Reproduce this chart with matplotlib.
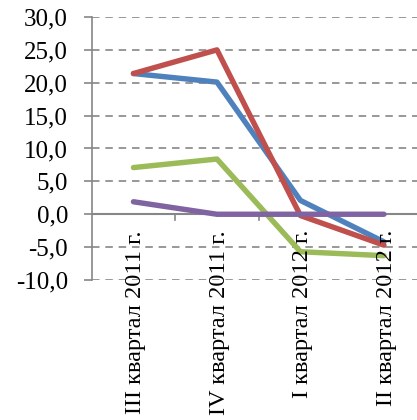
import matplotlib
matplotlib.use("Agg")
import matplotlib.pyplot as plt

# quarters (x axis)
quarters = ["III квартал 2011 г.", "IV квартал 2011 г.",
            "I квартал 2012 г.", "II квартал 2012 г."]

# series values
blue_vals = [21.4, 20.1, 2.1, -4.2]
red_vals = [21.4, 25.0, -0.2, -4.7]
green_vals = [7.1, 8.4, -5.7, -6.3]
purple_vals = [1.9, 0.0, 0.0, 0.0]

ytick_values = [-10, -5, 0, 5, 10, 15, 20, 25, 30]
ytick_labels = ["-10,0", "-5,0", "0,0", "5,0", "10,0", "15,0", "20,0", "25,0", "30,0"]

series = [
    (blue_vals, "#4F81BD"),
    (red_vals, "#C0504D"),
    (green_vals, "#9BBB59"),
    (purple_vals, "#8064A2"),
]

GRAY = "#868686"
FONT = ["Liberation Serif", "DejaVu Serif"]

plt.rcParams["font.family"] = FONT

fig = plt.figure(figsize=(4.17, 4.2), dpi=100)
ax = fig.add_axes([91.7 / 417, 1 - 280 / 420, 334 / 417, 263 / 420])

x = list(range(len(quarters)))
for vals, color in series:
    ax.plot(x, vals, color=color, linewidth=3.9, solid_capstyle="round",
            solid_joinstyle="round", zorder=3)

ax.set_xlim(-0.5, len(quarters) - 0.5)
ax.set_ylim(-10, 30)

# y axis
ax.set_yticks(ytick_values)
ax.set_yticklabels(ytick_labels, fontsize=18, family=FONT)
ax.tick_params(axis="y", direction="out", length=6, width=1.2, color=GRAY, pad=11)
ax.yaxis.grid(True, linestyle=(0, (4.5, 3.5)), color=GRAY, linewidth=1.2)
ax.set_axisbelow(True)

# x axis sits at zero, ticks between categories
for side in ["top", "right", "bottom"]:
    ax.spines[side].set_visible(False)
ax.spines["left"].set_color(GRAY)
ax.spines["left"].set_linewidth(1.2)
ax.axhline(0, color=GRAY, linewidth=1.5, zorder=2)
ax.set_xticks([])
for b in [0.5, 1.5]:
    ax.plot([b, b], [0, -0.9], color=GRAY, linewidth=1.2, zorder=2)

# category labels, rotated, hanging from inside the plot
for i, q in enumerate(quarters):
    ax.text(i + 0.03, 0.19, q, transform=ax.get_xaxis_transform(),
            rotation=90, ha="center", va="top", fontsize=17.6, family=FONT)

fig.savefig("out.png", dpi=100)
